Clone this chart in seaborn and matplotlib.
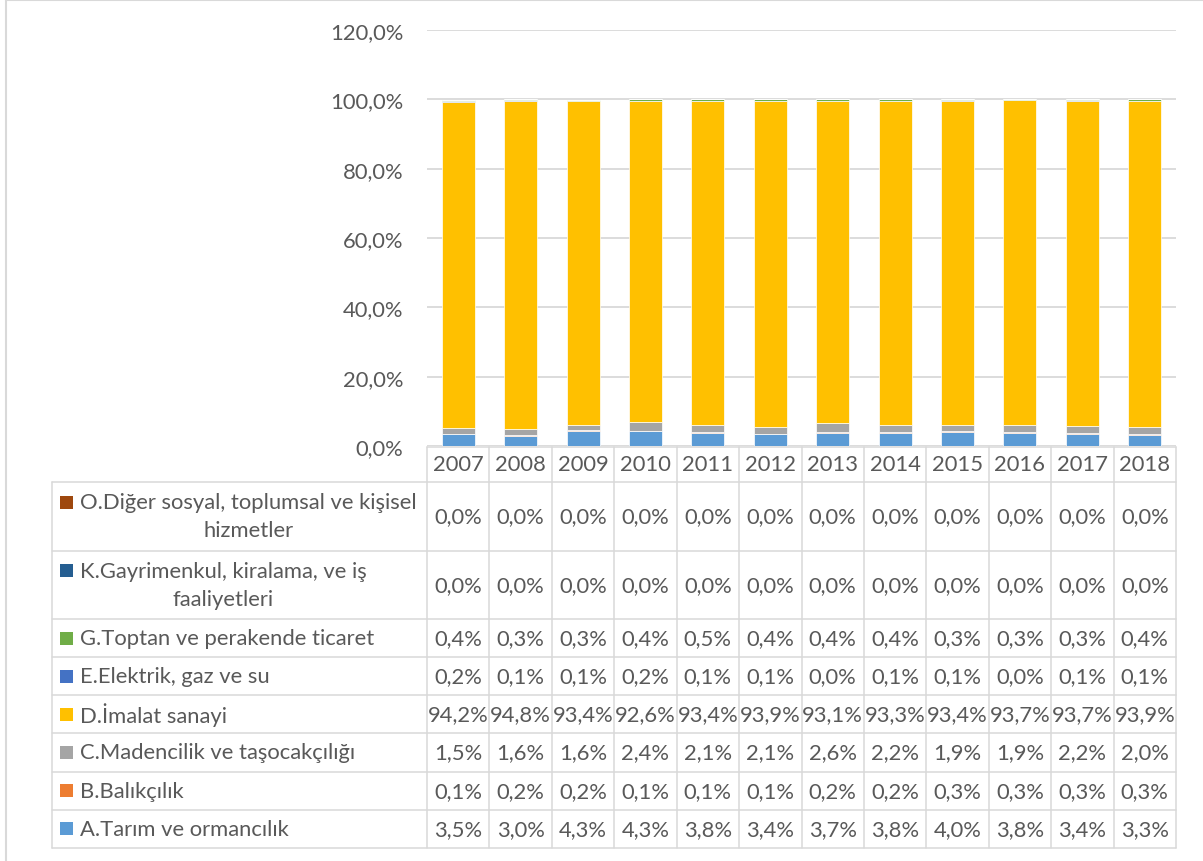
import seaborn as sns
import pandas as pd
import matplotlib.pyplot as plt
import numpy as np
from matplotlib.ticker import FuncFormatter
from matplotlib.patches import Rectangle

sns.set_style("white")
plt.rcParams['font.family'] = ['Lato', 'DejaVu Sans']

# data (percent shares)
years = ["2007", "2008", "2009", "2010", "2011", "2012", "2013", "2014", "2015", "2016", "2017", "2018"]
tarim = [3.5, 3.0, 4.3, 4.3, 3.8, 3.4, 3.7, 3.8, 4.0, 3.8, 3.4, 3.3]
balik = [0.1, 0.2, 0.2, 0.1, 0.1, 0.1, 0.2, 0.2, 0.3, 0.3, 0.3, 0.3]
maden = [1.5, 1.6, 1.6, 2.4, 2.1, 2.1, 2.6, 2.2, 1.9, 1.9, 2.2, 2.0]
imalat = [94.2, 94.8, 93.4, 92.6, 93.4, 93.9, 93.1, 93.3, 93.4, 93.7, 93.7, 93.9]
elektrik = [0.2, 0.1, 0.1, 0.2, 0.1, 0.1, 0.0, 0.1, 0.1, 0.0, 0.1, 0.1]
toptan = [0.4, 0.3, 0.3, 0.4, 0.5, 0.4, 0.4, 0.4, 0.3, 0.3, 0.3, 0.4]
gayrimenkul = [0.0] * 12
diger = [0.0] * 12

series = [
    ("A.Tarım ve ormancılık", tarim, "#5B9BD5"),
    ("B.Balıkçılık", balik, "#ED7D31"),
    ("C.Madencilik ve taşocakçılığı", maden, "#A5A5A5"),
    ("D.İmalat sanayi", imalat, "#FFC000"),
    ("E.Elektrik, gaz ve su", elektrik, "#4472C4"),
    ("G.Toptan ve perakende ticaret", toptan, "#70AD47"),
    ("K.Gayrimenkul, kiralama, ve iş\nfaaliyetleri", gayrimenkul, "#255E91"),
    ("O.Diğer sosyal, toplumsal ve kişisel\nhizmetler", diger, "#9E480E"),
]

W, H = 1203, 862
fig = plt.figure(figsize=(W / 100, H / 100), dpi=100)
grey = "#595959"
line_c = "#d9d9d9"
fs = 15.8

# chart area
x0, x1 = 427, 1176
ax = fig.add_axes([x0 / W, (H - 447) / H, (x1 - x0) / W, (447 - 31) / H])
bottom = np.zeros(len(years))
for name, vals, col in series:
    v = np.array(vals) / 100
    sns.barplot(x=years, y=v, bottom=bottom, color=col, saturation=1,
                width=0.53, edgecolor="white", linewidth=0.5, ax=ax, zorder=3)
    bottom = bottom + v

ax.set_ylim(0, 1.2)
ax.set_xlim(-0.5, len(years) - 0.5)
ax.set_yticks(np.arange(0, 1.21, 0.2))
ax.yaxis.set_major_formatter(FuncFormatter(lambda y, p: f"{y*100:.1f}%".replace(".", ",")))
ax.tick_params(axis="y", length=0, pad=17, labelsize=fs, labelcolor=grey)
ax.set_xticks([])
ax.set_xlabel("")
ax.set_ylabel("")
ax.grid(axis="y", color=line_c, linewidth=1.3, zorder=0)
for s in ax.spines.values():
    s.set_visible(False)

# table drawn in pixel coordinates
tb = fig.add_axes([0, 0, 1, 1], zorder=-1)
tb.set_xlim(0, W)
tb.set_ylim(H, 0)
tb.axis("off")

# outer frame of the chart
tb.plot([6, 6], [1, H], color=line_c, lw=1.5)
tb.plot([6, W], [1, 1], color=line_c, lw=1.5)

lw = 1.1
col_w = (x1 - x0) / len(years)
col_edges = [x0 + i * col_w for i in range(len(years) + 1)]
hdr_top, hdr_bot = 448, 483
row_edges = [483, 552, 620, 658, 696, 734, 773, 811, 849]
tleft = 52

# header
tb.plot([x0, x1], [hdr_top, hdr_top], color=line_c, lw=lw)
for xe in col_edges:
    tb.plot([xe, xe], [hdr_top, row_edges[-1]], color=line_c, lw=lw)
for i, yr in enumerate(years):
    tb.text(x0 + (i + 0.5) * col_w, (hdr_top + hdr_bot) / 2, yr, ha="center", va="center",
            fontsize=fs, color=grey)

# rows
for ye in row_edges:
    tb.plot([tleft, x1], [ye, ye], color=line_c, lw=lw)
tb.plot([tleft, tleft], [row_edges[0], row_edges[-1]], color=line_c, lw=lw)

for r, (name, vals, col) in enumerate(series[::-1]):
    yt, yb = row_edges[r], row_edges[r + 1]
    yc = (yt + yb) / 2
    two = "\n" in name
    key_y = yc - 14.5 if two else yc
    tb.add_patch(Rectangle((60, key_y - 6.5), 13, 13, color=col, lw=0))
    tb.text(80, yc, name, ha="left", va="center", multialignment="center",
            fontsize=fs, color=grey, linespacing=1.5)
    for i, v in enumerate(vals):
        tb.text(x0 + (i + 0.5) * col_w, yc, f"{v:.1f}%".replace(".", ","),
                ha="center", va="center", fontsize=fs, color=grey)

fig.savefig("out.png", dpi=100)
